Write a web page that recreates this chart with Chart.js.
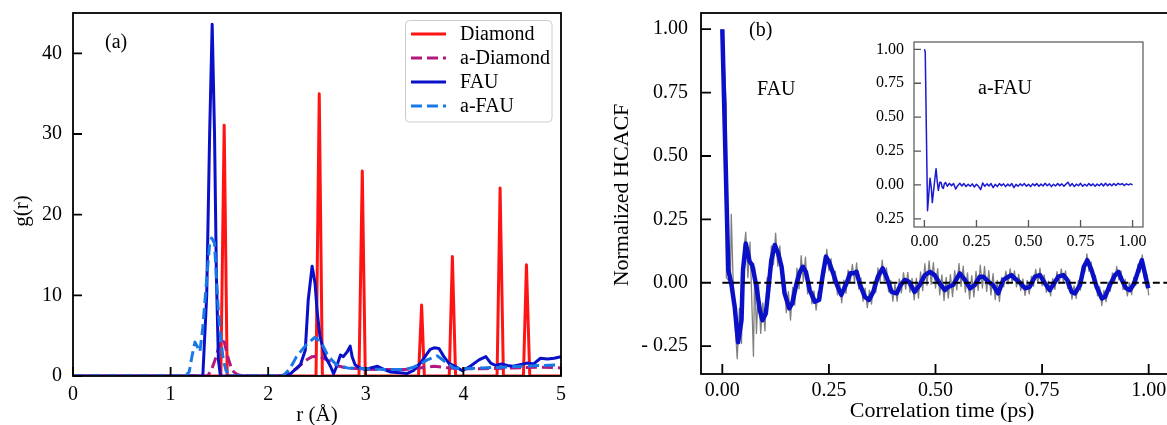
<!DOCTYPE html>
<html><head><meta charset="utf-8">
<script src="https://cdn.jsdelivr.net/npm/chart.js@4.4.1/dist/chart.umd.min.js"></script>
<style>
html,body{margin:0;padding:0;background:#fff;overflow:hidden;width:1167px;height:425px;position:relative;}
canvas{position:absolute;}
#ca{left:0;top:0;}
#cb{left:590px;top:0;}
#ci{left:860px;top:29px;}
</style></head><body>
<canvas id="ca" width="580" height="425"></canvas>
<canvas id="cb" width="600" height="425"></canvas>
<canvas id="ci" width="300" height="225"></canvas>
<script>
// ---------- Panel (a): radial distribution g(r) ----------
const diamondR = [0, 1.515, 1.549, 1.58, 2.49, 2.523, 2.555, 2.93, 2.964, 2.995, 3.54, 3.572, 3.60, 3.855, 3.887, 3.92, 4.345, 4.376, 4.41, 4.615, 4.646, 4.68, 5];
const diamondG = [0, 0, 31.1, 0, 0, 35.0, 0, 0, 25.4, 0, 0, 8.8, 0, 0, 14.8, 0, 0, 23.3, 0, 0, 13.8, 0, 0];

const aDiamondR = [0, 1.38, 1.42, 1.47, 1.51, 1.55, 1.59, 1.63, 1.68, 1.75, 2.1, 2.2, 2.3, 2.38, 2.45, 2.52, 2.6, 2.7, 2.8, 3.0, 3.2, 3.4, 3.55, 3.7, 3.85, 4.0, 4.2, 4.5, 4.8, 5.0];
const aDiamondG = [0, 0, 0.8, 2.5, 4.5, 4.2, 2.2, 0.7, 0.2, 0, 0, 0.2, 1.0, 1.9, 2.4, 2.5, 2.0, 1.3, 1.0, 0.85, 0.8, 0.8, 1.0, 1.2, 1.0, 0.9, 0.9, 1.0, 1.1, 1.0];

const fauR = [0, 1.33, 1.37, 1.40, 1.426, 1.45, 1.47, 1.49, 1.51, 2.15, 2.23, 2.33, 2.38, 2.41, 2.45, 2.48, 2.50, 2.53, 2.585, 2.64, 2.67, 2.70, 2.74, 2.77, 2.81, 2.84, 2.86, 2.89, 2.94, 3.0, 3.05, 3.12, 3.19, 3.25, 3.35, 3.42, 3.49, 3.56, 3.63, 3.66, 3.70, 3.75, 3.80, 3.85, 3.94, 3.99, 4.07, 4.16, 4.23, 4.28, 4.33, 4.39, 4.45, 4.51, 4.58, 4.65, 4.72, 4.79, 4.86, 4.93, 5.0];
const fauG = [0, 0, 10, 30, 43.6, 30, 12, 2, 0, 0, 0.3, 1.4, 3.2, 9.4, 13.6, 11.5, 8.2, 4.9, 2.4, 1.15, 0.3, 1.15, 2.6, 2.4, 3.0, 3.7, 2.4, 1.4, 1.0, 0.8, 1.0, 1.2, 0.8, 0.5, 0.4, 0.3, 0.7, 1.6, 2.8, 3.3, 3.5, 3.4, 2.4, 1.6, 1.0, 0.65, 1.2, 2.0, 2.4, 1.6, 1.3, 1.5, 1.3, 1.2, 1.4, 1.6, 1.5, 2.2, 2.1, 2.2, 2.4];

const aFauR = [0, 1.15, 1.19, 1.22, 1.25, 1.28, 1.30, 1.33, 1.37, 1.40, 1.42, 1.45, 1.47, 1.49, 1.51, 1.54, 1.57, 1.62, 2.15, 2.2, 2.25, 2.29, 2.35, 2.40, 2.48, 2.55, 2.60, 2.65, 2.70, 2.81, 3.0, 3.2, 3.4, 3.49, 3.56, 3.63, 3.73, 3.80, 3.90, 4.0, 4.2, 4.4, 4.6, 4.8, 5.0];
const aFauG = [0, 0, 0.5, 2.5, 4.2, 3.5, 3.0, 6, 12, 16.5, 17.1, 16.5, 12, 8, 5, 2, 0.6, 0, 0, 0.6, 1.5, 2.4, 3.3, 4.0, 4.8, 4.0, 2.8, 2.0, 1.4, 1.0, 0.9, 0.8, 0.8, 1.1, 1.5, 2.0, 2.5, 1.9, 1.0, 0.9, 1.0, 1.1, 1.2, 1.3, 1.4];

const aXTicks = [0, 1, 2, 3, 4, 5];
const aXLabels = ['0', '1', '2', '3', '4', '5'];
const aYTicks = [0, 10, 20, 30, 40];
const aYLabels = ['0', '10', '20', '30', '40'];

// ---------- Panel (b): HCACF of FAU ----------
const fauT = [0, 0.014, 0.021, 0.029, 0.037, 0.045, 0.0485, 0.055, 0.060, 0.064, 0.070, 0.074, 0.080, 0.088, 0.094, 0.102, 0.107, 0.115, 0.123, 0.131, 0.139, 0.146, 0.157, 0.164, 0.174, 0.182, 0.189, 0.196, 0.205, 0.217, 0.227, 0.235, 0.243, 0.250, 0.260, 0.269, 0.279, 0.291, 0.300, 0.308, 0.315, 0.322, 0.334, 0.344, 0.354, 0.365, 0.376, 0.385, 0.397, 0.409, 0.418, 0.428, 0.438, 0.451, 0.463, 0.475, 0.487, 0.498, 0.510, 0.522, 0.530, 0.541, 0.557, 0.569, 0.581, 0.592, 0.604, 0.612, 0.624, 0.635, 0.647, 0.659, 0.671, 0.678, 0.686, 0.696, 0.710, 0.721, 0.733, 0.745, 0.757, 0.768, 0.778, 0.788, 0.800, 0.809, 0.819, 0.827, 0.839, 0.848, 0.856, 0.866, 0.878, 0.890, 0.898, 0.909, 0.921, 0.929, 0.937, 0.947, 0.956, 0.966, 0.976, 0.984, 0.991, 0.999];
const fauSmooth = [1.0, 0.05, -0.003, -0.095, -0.235, -0.148, 0.05, 0.155, 0.116, 0.083, 0.07, 0.037, -0.016, -0.108, -0.148, -0.121, -0.042, 0.09, 0.149, 0.116, 0.063, -0.042, -0.101, -0.081, -0.003, 0.043, 0.063, 0.043, -0.029, -0.075, -0.068, 0.024, 0.103, 0.083, 0.037, -0.009, -0.048, -0.003, 0.037, 0.037, 0.043, -0.003, -0.055, -0.068, -0.036, 0.024, 0.057, 0.024, -0.036, -0.042, -0.009, 0.011, 0.004, -0.036, -0.009, 0.030, 0.043, 0.030, -0.003, -0.029, -0.016, -0.009, 0.037, 0.011, -0.022, -0.009, 0.024, 0.024, 0.004, -0.009, -0.042, 0.011, 0.024, 0.030, 0.017, 0.004, -0.022, -0.016, 0.024, 0.030, -0.003, -0.029, -0.003, 0.024, 0.030, 0.011, -0.036, -0.042, -0.009, 0.063, 0.089, 0.050, -0.016, -0.062, -0.055, -0.009, 0.030, 0.043, 0.011, -0.022, -0.029, -0.003, 0.050, 0.089, 0.037, -0.022];

const rawT = [0, 0.009, 0.0095, 0.019, 0.021, 0.025, 0.030, 0.035, 0.040, 0.045, 0.050, 0.055, 0.060, 0.065, 0.070, 0.073, 0.076, 0.080, 0.085, 0.090, 0.095, 0.100, 0.105, 0.110,
  0.115, 0.120, 0.125, 0.130, 0.135, 0.140, 0.145, 0.150, 0.155, 0.160,
  0.165, 0.170, 0.175, 0.180, 0.185, 0.190, 0.195, 0.200, 0.205, 0.210,
  0.215, 0.220, 0.225, 0.230, 0.235, 0.240, 0.245, 0.250, 0.255, 0.260,
  0.265, 0.270, 0.275, 0.280, 0.285, 0.290, 0.295, 0.300, 0.305, 0.310,
  0.315, 0.320, 0.325, 0.330, 0.335, 0.340, 0.345, 0.350, 0.355, 0.360,
  0.365, 0.370, 0.375, 0.380, 0.385, 0.390, 0.395, 0.400, 0.405, 0.410,
  0.415, 0.420, 0.425, 0.430, 0.435, 0.440, 0.445, 0.450, 0.455, 0.460,
  0.465, 0.470, 0.475, 0.480, 0.485, 0.490, 0.495, 0.500, 0.505, 0.510,
  0.515, 0.520, 0.525, 0.530, 0.535, 0.540, 0.545, 0.550, 0.555, 0.560,
  0.565, 0.570, 0.575, 0.580, 0.585, 0.590, 0.595, 0.600, 0.605, 0.610,
  0.615, 0.620, 0.625, 0.630, 0.635, 0.640, 0.645, 0.650, 0.655, 0.660,
  0.665, 0.670, 0.675, 0.680, 0.685, 0.690, 0.695, 0.700, 0.705, 0.710,
  0.715, 0.720, 0.725, 0.730, 0.735, 0.740, 0.745, 0.750, 0.755, 0.760,
  0.765, 0.770, 0.775, 0.780, 0.785, 0.790, 0.795, 0.800, 0.805, 0.810,
  0.815, 0.820, 0.825, 0.830, 0.835, 0.840, 0.845, 0.850, 0.855, 0.860,
  0.865, 0.870, 0.875, 0.880, 0.885, 0.890, 0.895, 0.900, 0.905, 0.910,
  0.915, 0.920, 0.925, 0.930, 0.935, 0.940, 0.945, 0.950, 0.955, 0.960,
  0.965, 0.970, 0.975, 0.980, 0.985, 0.990, 0.995, 1.000];
const rawH = [1.0, 0.71, 0.02, 0.0, 0.27, 0.03, -0.17, -0.30, -0.10, -0.24, 0.12, 0.20, 0.02, 0.16, -0.12, -0.29, 0.06, -0.20, 0.0, -0.20, -0.08, -0.19, 0.02, -0.06,
  0.145, 0.072, 0.196, 0.065, 0.145, -0.007, 0.028, -0.118, -0.035, -0.147,
  -0.018, -0.089, 0.058, -0.024, 0.107, 0.005, 0.101, -0.044, 0.006, -0.083,
  -0.032, -0.108, -0.034, -0.069, 0.059, 0.038, 0.132, 0.048, 0.095, 0.002,
  0.046, -0.048, 0.003, -0.079, 0.01, -0.042, 0.05, 0.002, 0.072, 0.004,
  0.078, -0.025, 0.019, -0.073, -0.021, -0.098, -0.03, -0.084, 0.005, -0.038,
  0.059, 0.004, 0.089, 0.007, 0.059, -0.036, 0.009, -0.073, -0.005, -0.073,
  0.015, -0.04, 0.04, -0.025, 0.041, -0.037, 0.017, -0.068, 0.018, -0.061,
  0.043, -0.031, 0.075, -0.01, 0.086, -0.006, 0.079, -0.021, 0.056, -0.048,
  0.031, -0.07, 0.021, -0.061, 0.032, -0.055, 0.048, -0.028, 0.076, -0.015,
  0.065, -0.037, 0.039, -0.064, 0.028, -0.056, 0.045, -0.03, 0.069, -0.021,
  0.064, -0.034, 0.048, -0.048, 0.036, -0.067, 0.009, -0.074, 0.021, -0.016,
  0.046, -0.005, 0.055, -0.001, 0.047, -0.016, 0.033, -0.031, 0.015, -0.05,
  0.009, -0.044, 0.025, -0.014, 0.053, -0.001, 0.058, -0.012, 0.031, -0.038,
  0.006, -0.052, 0.017, -0.026, 0.044, -0.003, 0.055, 0.002, 0.047, -0.022,
  0.011, -0.065, -0.012, -0.062, 0.008, -0.029, 0.067, 0.042, 0.114, 0.045,
  0.082, 0.0, 0.029, -0.052, -0.015, -0.09, -0.03, -0.075, 0.002, -0.034,
  0.039, -0.001, 0.064, 0.011, 0.047, -0.027, 0.013, -0.052, 0.0, -0.047,
  0.022, -0.01, 0.073, 0.042, 0.11, 0.016, 0.036, -0.05];

const zeroT = [0, 1.05];
const zeroH = [0, 0];

const bXTicks = [0, 0.25, 0.5, 0.75, 1.0];
const bXLabels = ['0.00', '0.25', '0.50', '0.75', '1.00'];
const bYTicks = [-0.25, 0, 0.25, 0.5, 0.75, 1.0];
const bYLabels = ['- 0.25', '0.00', '0.25', '0.50', '0.75', '1.00'];

// ---------- Inset: HCACF of a-FAU ----------
const insetT = [0, 0.004, 0.015, 0.022, 0.027, 0.033, 0.038, 0.047, 0.056, 0.062, 0.067, 0.074, 0.080, 0.086, 0.091, 0.096, 0.102,
  0.11, 0.12, 0.13, 0.14, 0.15, 0.16, 0.17, 0.18, 0.19, 0.20,
  0.21, 0.22, 0.23, 0.24, 0.25, 0.26, 0.27, 0.28, 0.29, 0.30,
  0.31, 0.32, 0.33, 0.34, 0.35, 0.36, 0.37, 0.38, 0.39, 0.40,
  0.41, 0.42, 0.43, 0.44, 0.45, 0.46, 0.47, 0.48, 0.49, 0.50,
  0.51, 0.52, 0.53, 0.54, 0.55, 0.56, 0.57, 0.58, 0.59, 0.60,
  0.61, 0.62, 0.63, 0.64, 0.65, 0.66, 0.67, 0.68, 0.69, 0.70,
  0.71, 0.72, 0.73, 0.74, 0.75, 0.76, 0.77, 0.78, 0.79, 0.80,
  0.81, 0.82, 0.83, 0.84, 0.85, 0.86, 0.87, 0.88, 0.89, 0.90,
  0.91, 0.92, 0.93, 0.94, 0.95, 0.96, 0.97, 0.98, 0.99, 1.00];
const insetH = [1.0, 0.98, -0.19, -0.05, 0.05, -0.02, -0.13, 0.0, 0.12, 0.02, -0.04, 0.02, 0.018, -0.02, -0.025, 0.01, 0.017,
  -0.01, 0.012, -0.005, 0.01, -0.03, -0.005, 0.012, -0.008, 0.01, -0.012,
  0.005, -0.01, 0.008, -0.015, 0.005, -0.01, -0.035, 0.015, -0.01, 0.008,
  -0.008, 0.01, -0.02, 0.005, -0.012, 0.01, -0.005, 0.008, -0.012, 0.006,
  -0.008, 0.01, -0.02, 0.004, -0.01, 0.008, -0.006, 0.01, -0.01, 0.005,
  -0.012, 0.008, -0.005, 0.01, -0.01, 0.006, -0.008, 0.012, -0.006, 0.008,
  -0.012, 0.005, -0.008, 0.01, -0.005, 0.008, -0.01, 0.006, 0.02, -0.008,
  0.01, -0.012, 0.006, -0.006, 0.012, -0.01, 0.005, -0.008, 0.01, -0.005,
  0.008, -0.01, 0.006, -0.006, 0.01, -0.008, 0.012, -0.005, 0.008, -0.006,
  0.01, -0.004, 0.012, 0.002, 0.01, -0.004, 0.008, 0.0, 0.008, 0.0];

const iXTicks = [0, 0.25, 0.5, 0.75, 1.0];
const iXLabels = ['0.00', '0.25', '0.50', '0.75', '1.00'];
const iYTicks = [-0.25, 0, 0.25, 0.5, 0.75, 1.0];
const iYLabels = ['0.25', '0.00', '0.25', '0.50', '0.75', '1.00'];

// ---------- helpers ----------
const FONT = "'Liberation Serif', 'Times New Roman', serif";
const RED = '#ff1414', PURPLE = '#b3187f', BLUE = '#0a10c8', LIGHTBLUE = '#1878e8';
const pts = (xs, ys) => xs.map((x, i) => ({x: x, y: ys[i]}));
const fixedTicks = vals => (s => { s.ticks = vals.map(v => ({value: v})); });

function makeDeco(cfg) {
  return {
    id: 'deco',
    beforeDatasetsDraw(chart) {
      if (!cfg.fill) return;
      const a = chart.chartArea, ctx = chart.ctx;
      ctx.save(); ctx.fillStyle = cfg.fill;
      ctx.fillRect(a.left, a.top, a.right - a.left, a.bottom - a.top);
      ctx.restore();
    },
    afterDatasetsDraw(chart) {
      const ctx = chart.ctx, a = chart.chartArea, xs = chart.scales.x, ys = chart.scales.y;
      ctx.save();
      ctx.strokeStyle = cfg.color;
      ctx.lineWidth = cfg.tickWidth;
      ctx.beginPath();
      xs.ticks.forEach(t => { const p = xs.getPixelForValue(t.value); ctx.moveTo(p, a.bottom); ctx.lineTo(p, a.bottom - cfg.tickLen); });
      ys.ticks.forEach(t => { const p = ys.getPixelForValue(t.value); ctx.moveTo(a.left, p); ctx.lineTo(a.left + cfg.tickLen, p); });
      ctx.stroke();
      ctx.lineWidth = cfg.frameWidth;
      ctx.strokeRect(a.left, a.top, a.right - a.left, a.bottom - a.top);
      ctx.restore();
    },
    afterDraw(chart) {
      const ctx = chart.ctx;
      (cfg.texts || []).forEach(t => {
        ctx.save();
        ctx.font = t.size + 'px ' + FONT;
        ctx.fillStyle = '#000';
        ctx.textAlign = t.align || 'left';
        ctx.textBaseline = t.base || 'middle';
        ctx.translate(t.x - cfg.ox, t.y - cfg.oy);
        if (t.rot) ctx.rotate(t.rot);
        ctx.fillText(t.text, 0, 0);
        ctx.restore();
      });
      if (cfg.legend) {
        const L = cfg.legend;
        ctx.save();
        ctx.beginPath();
        if (ctx.roundRect) ctx.roundRect(L.x, L.y, L.w, L.h, 4); else ctx.rect(L.x, L.y, L.w, L.h);
        ctx.fillStyle = 'rgba(255,255,255,0.85)';
        ctx.fill();
        ctx.strokeStyle = '#cccccc'; ctx.lineWidth = 1;
        ctx.stroke();
        const ds = chart.data.datasets;
        L.rows.forEach((ry, i) => {
          const d = ds[i];
          ctx.beginPath();
          ctx.setLineDash(d.borderDash || []);
          ctx.strokeStyle = d.borderColor; ctx.lineWidth = d.borderWidth;
          ctx.moveTo(L.lx0, ry); ctx.lineTo(L.lx1, ry); ctx.stroke();
          ctx.setLineDash([]);
          ctx.font = L.size + 'px ' + FONT; ctx.fillStyle = '#000';
          ctx.textAlign = 'left'; ctx.textBaseline = 'middle';
          ctx.fillText(d.label, L.tx, ry + 1);
        });
        ctx.restore();
      }
    }
  };
}

function axis(min, max, ticks, labels, fit, isX, size, pad) {
  return {
    type: 'linear', min: min, max: max,
    afterBuildTicks: fixedTicks(ticks),
    afterFit: s => {
      if (isX) s.height = fit; else s.width = fit;
      s.paddingTop = 0; s.paddingBottom = 0; s.paddingLeft = 0; s.paddingRight = 0;
    },
    grid: {display: false, drawTicks: false},
    border: {display: false},
    ticks: {font: {size: size, family: FONT}, color: '#000', padding: pad, autoSkip: false, maxRotation: 0, minRotation: 0,
      callback: (v, i) => labels[i]}
  };
}

const common = {
  responsive: false, animation: false, devicePixelRatio: 1,
  elements: {point: {radius: 0}, line: {tension: 0, borderJoinStyle: 'round'}},
  events: []
};

// Panel (a)
new Chart(document.getElementById('ca'), {
  type: 'line',
  data: {datasets: [
    {label: 'Diamond', data: pts(diamondR, diamondG), borderColor: RED, borderWidth: 3, order: 4},
    {label: 'a-Diamond', data: pts(aDiamondR, aDiamondG), borderColor: PURPLE, borderWidth: 3, borderDash: [11, 5], order: 3},
    {label: 'FAU', data: pts(fauR, fauG), borderColor: BLUE, borderWidth: 3, order: 2},
    {label: 'a-FAU', data: pts(aFauR, aFauG), borderColor: LIGHTBLUE, borderWidth: 3, borderDash: [11, 5], order: 1}
  ]},
  options: Object.assign({}, common, {
    layout: {autoPadding: false, padding: {left: 0, top: 13, right: 19, bottom: 0}},
    plugins: {legend: {display: false}, tooltip: {enabled: false}},
    scales: {
      x: axis(0, 5, aXTicks, aXLabels, 49, true, 20, 7),
      y: axis(0, 45, aYTicks, aYLabels, 73, false, 20, 11)
    }
  }),
  plugins: [makeDeco({
    ox: 0, oy: 0, color: '#000', tickWidth: 1.8, tickLen: 9, frameWidth: 1.8,
    texts: [
      {text: '(a)', x: 105, y: 43, size: 20},
      {text: 'g(r)', x: 22, y: 211, size: 21, rot: -Math.PI / 2, align: 'center'},
      {text: 'r (Å)', x: 317, y: 421, size: 21, align: 'center', base: 'alphabetic'}
    ],
    legend: {x: 405.5, y: 20.5, w: 146.5, h: 101.5, rows: [34, 58, 82, 106], lx0: 411, lx1: 446, tx: 460, size: 20}
  })]
});

// Panel (b)
new Chart(document.getElementById('cb'), {
  type: 'line',
  data: {datasets: [
    {label: 'raw', data: pts(rawT, rawH), borderColor: '#808080', borderWidth: 1.3, order: 3},
    {label: 'FAU', data: pts(fauT, fauSmooth), borderColor: BLUE, borderWidth: 4.5, order: 2},
    {label: 'zero', data: pts(zeroT, zeroH), borderColor: '#000', borderWidth: 1.8, borderDash: [7, 3.5], order: 1}
  ]},
  options: Object.assign({}, common, {
    layout: {autoPadding: false, padding: {left: 0, top: 13, right: 20, bottom: 0}},
    plugins: {legend: {display: false}, tooltip: {enabled: false}},
    scales: {
      x: axis(-0.05, 1.05, bXTicks, bXLabels, 51, true, 20, 5),
      y: axis(-0.36, 1.064, bYTicks, bYLabels, 111, false, 20, 13)
    }
  }),
  plugins: [makeDeco({
    ox: 590, oy: 0, color: '#000', tickWidth: 1.8, tickLen: 10, frameWidth: 1.8,
    texts: [
      {text: '(b)', x: 749, y: 31, size: 20},
      {text: 'FAU', x: 757, y: 90, size: 20},
      {text: 'Normalized HCACF', x: 622, y: 195, size: 22, rot: -Math.PI / 2, align: 'center'},
      {text: 'Correlation time (ps)', x: 942, y: 411, size: 22, align: 'center'}
    ]
  })]
});

// Inset
new Chart(document.getElementById('ci'), {
  type: 'line',
  data: {datasets: [
    {label: 'a-FAU', data: pts(insetT, insetH), borderColor: '#1a1ad2', borderWidth: 1.5}
  ]},
  options: Object.assign({}, common, {
    layout: {autoPadding: false, padding: {left: 0, top: 13, right: 17, bottom: 0}},
    plugins: {legend: {display: false}, tooltip: {enabled: false}},
    scales: {
      x: axis(-0.05, 1.05, iXTicks, iXLabels, 27, true, 16, 5),
      y: axis(-0.31, 1.054, iYTicks, iYLabels, 54, false, 16, 10)
    }
  }),
  plugins: [makeDeco({
    ox: 860, oy: 29, color: '#555', tickWidth: 1.3, tickLen: 7, frameWidth: 1.2, fill: '#ffffff',
    texts: [
      {text: 'a-FAU', x: 978, y: 89, size: 20}
    ]
  })]
});
</script>
</body></html>
